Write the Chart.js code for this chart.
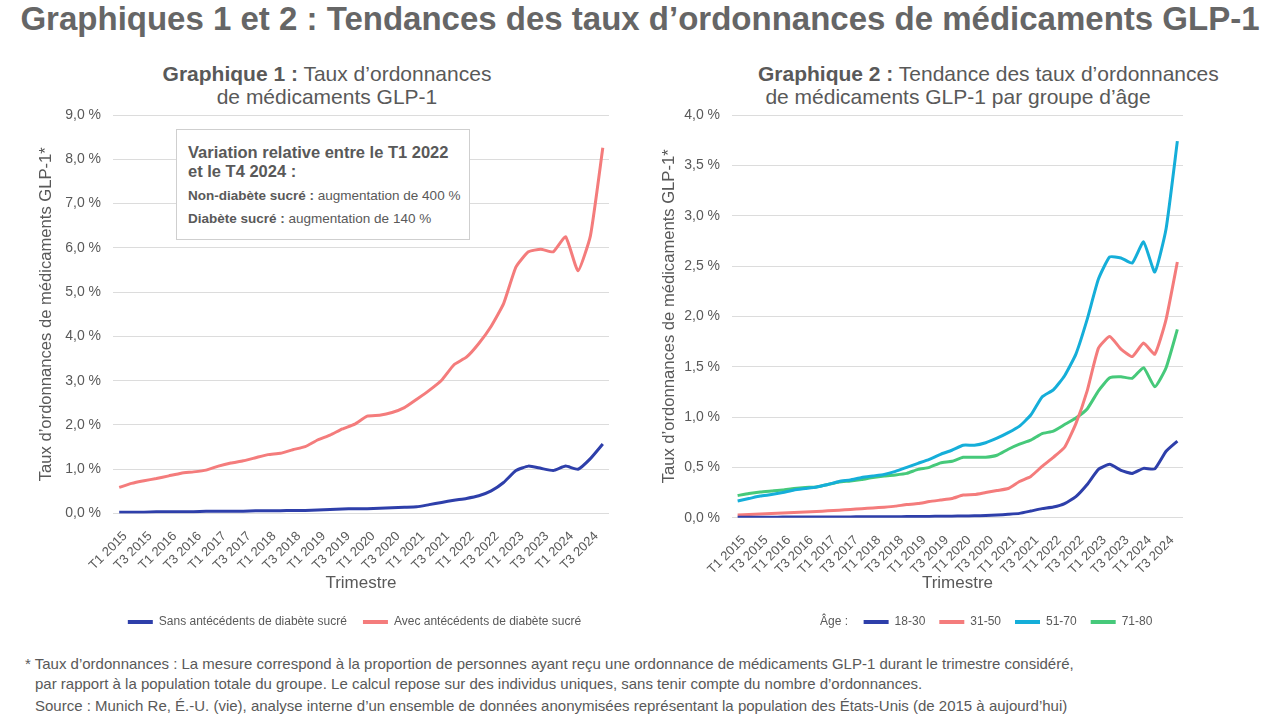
<!DOCTYPE html>
<html lang="fr">
<head>
<meta charset="utf-8">
<script src="https://cdn.jsdelivr.net/npm/chart.js@4.4.1/dist/chart.umd.min.js"></script>
<style>
  html, body { margin: 0; padding: 0; background: #fff; }
  body { width: 1280px; height: 720px; position: relative; overflow: hidden;
         font-family: "Liberation Sans", Arial, sans-serif; color: #595959; }
  .abs { position: absolute; }
  #mainTitle { left: 0; width: 1280px; top: 0px; text-align: center; font-size: 33px;
               font-weight: bold; color: #666; white-space: nowrap; }
  .ctitle { font-size: 21px; text-align: center; line-height: 23px; color: #595959; white-space: nowrap; }
  .ctitle b { font-weight: bold; }
  .chartBox { position: absolute; top: 105px; width: 640px; height: 535px; }
  #note { left: 176px; top: 129px; width: 294px; height: 111px; border: 1px solid #cfcfcf;
          background: #fff; box-sizing: border-box; padding: 13px 0 0 11px; }
  #note .h { font-weight: bold; font-size: 16.5px; line-height: 19px; color: #595959; }
  #note .l { font-size: 13.5px; margin-top: 7px; line-height: 16px; }
  #foot { left: 25px; top: 654px; font-size: 15px; line-height: 20px; white-space: nowrap; }
  #ageLbl { left: 820px; top: 614px; font-size: 12px; }
</style>
</head>
<body>
<div id="mainTitle" class="abs">Graphiques 1 et 2 : Tendances des taux d’ordonnances de médicaments GLP-1</div>
<div class="abs ctitle" style="left:127px;width:400px;top:62px;"><b>Graphique 1 :</b> Taux d’ordonnances<br>de médicaments GLP-1</div>
<div class="abs ctitle" style="left:758px;width:400px;top:62px;"><b>Graphique 2 :</b> Tendance des taux d’ordonnances<br>de médicaments GLP-1 par groupe d’âge</div>

<div class="chartBox" style="left:0;"><canvas id="chart1" width="640" height="535"></canvas></div>
<div class="chartBox" style="left:640px;"><canvas id="chart2" width="640" height="535"></canvas></div>

<div id="note" class="abs">
  <div class="h">Variation relative entre le T1 2022<br>et le T4 2024 :</div>
  <div class="l"><b>Non-diabète sucré :</b> augmentation de 400 %</div>
  <div class="l"><b>Diabète sucré :</b> augmentation de 140 %</div>
</div>
<div id="ageLbl" class="abs">Âge :</div>

<div id="foot" class="abs">
  <div>* Taux d’ordonnances : La mesure correspond à la proportion de personnes ayant reçu une ordonnance de médicaments GLP-1 durant le trimestre considéré,</div>
  <div style="padding-left:10px;">par rapport à la population totale du groupe. Le calcul repose sur des individus uniques, sans tenir compte du nombre d’ordonnances.</div>
  <div style="padding-left:10px;margin-top:2px;">Source : Munich Re, É.-U. (vie), analyse interne d’un ensemble de données anonymisées représentant la population des États-Unis (de 2015 à aujourd’hui)</div>
</div>

<script>
// trimestres T1 2015 .. T4 2024
const quarters = [
  'T1 2015','T2 2015','T3 2015','T4 2015','T1 2016','T2 2016','T3 2016','T4 2016',
  'T1 2017','T2 2017','T3 2017','T4 2017','T1 2018','T2 2018','T3 2018','T4 2018',
  'T1 2019','T2 2019','T3 2019','T4 2019','T1 2020','T2 2020','T3 2020','T4 2020',
  'T1 2021','T2 2021','T3 2021','T4 2021','T1 2022','T2 2022','T3 2022','T4 2022',
  'T1 2023','T2 2023','T3 2023','T4 2023','T1 2024','T2 2024','T3 2024','T4 2024'
];

// Graphique 1 (%)
const sansDiabete = [
  0.03,0.03,0.03,0.04,0.04,0.04,0.04,0.05,0.05,0.05,
  0.05,0.06,0.06,0.06,0.07,0.07,0.08,0.09,0.10,0.11,
  0.11,0.12,0.13,0.14,0.15,0.20,0.25,0.30,0.34,0.40,
  0.51,0.70,0.97,1.07,1.02,0.97,1.07,1.00,1.24,1.57
];
const avecDiabete = [
  0.59,0.68,0.74,0.79,0.85,0.91,0.94,0.98,1.07,1.14,
  1.19,1.26,1.33,1.36,1.44,1.51,1.66,1.77,1.91,2.02,
  2.20,2.22,2.28,2.39,2.58,2.78,3.01,3.36,3.53,3.84,
  4.23,4.74,5.57,5.91,5.97,5.91,6.25,5.48,6.27,8.26
];

// Graphique 2 (%)
const age18_30 = [
  0.005,0.005,0.005,0.005,0.006,0.006,0.006,0.007,0.007,0.008,
  0.008,0.009,0.009,0.010,0.010,0.011,0.012,0.013,0.014,0.015,
  0.017,0.019,0.022,0.027,0.034,0.043,0.066,0.090,0.106,0.14,
  0.21,0.33,0.48,0.53,0.47,0.44,0.49,0.485,0.66,0.76
];
const age31_50 = [
  0.027,0.032,0.037,0.042,0.047,0.052,0.057,0.062,0.068,0.075,
  0.082,0.090,0.097,0.105,0.115,0.13,0.14,0.16,0.175,0.19,
  0.225,0.23,0.25,0.27,0.29,0.36,0.41,0.51,0.60,0.70,
  0.935,1.26,1.685,1.80,1.675,1.60,1.735,1.625,1.97,2.54
];
const age51_70 = [
  0.166,0.19,0.215,0.23,0.25,0.275,0.29,0.305,0.33,0.36,
  0.375,0.40,0.415,0.43,0.46,0.50,0.54,0.58,0.63,0.67,
  0.72,0.72,0.745,0.79,0.845,0.91,1.02,1.20,1.27,1.41,
  1.625,1.97,2.37,2.59,2.58,2.53,2.74,2.44,2.87,3.74
];
const age71_80 = [
  0.22,0.24,0.255,0.265,0.275,0.29,0.30,0.305,0.33,0.355,
  0.365,0.38,0.40,0.415,0.425,0.44,0.48,0.50,0.545,0.56,
  0.60,0.60,0.60,0.62,0.68,0.73,0.77,0.835,0.86,0.925,
  0.99,1.08,1.26,1.39,1.40,1.385,1.49,1.30,1.49,1.87
];

const yTicks1 = [0,1,2,3,4,5,6,7,8,9];
const yTicks2 = [0,0.5,1,1.5,2,2.5,3,3.5,4];

const BLUE = '#2E3FAA', SALMON = '#F47C7C', TEAL = '#15AED9', GREEN = '#46C97A';
const FONT = '"Liberation Sans", Arial, sans-serif';
const GREY = '#595959';

function fmtPct(v) {
  return v.toFixed(1).replace('.', ',') + ' %';
}

function lineSet(label, data, color) {
  return {
    label, data,
    borderColor: color, backgroundColor: color,
    borderWidth: 3, pointRadius: 0, tension: 0.15, fill: false
  };
}

// décale la légende horizontalement (elle est centrée sur le canvas sinon)
const legendShift = {
  id: 'legendShift',
  afterLayout(chart, args, opts) {
    if (chart.legend) { chart.legend.left += opts.dx; chart.legend.right += opts.dx; }
  }
};

function makeOptions(cfg) {
  return {
    responsive: false,
    animation: false,
    layout: { padding: { left: cfg.padLeft, right: cfg.padRight, top: cfg.padTop, bottom: 2 } },
    plugins: {
      tooltip: { enabled: false },
      legendShift: { dx: cfg.legendDx },
      legend: {
        position: 'bottom',
        labels: {
          color: GREY, font: { family: FONT, size: 12 },
          boxWidth: 25, boxHeight: 4, padding: cfg.legendGap,
          generateLabels(chart) {
            return Chart.defaults.plugins.legend.labels.generateLabels(chart).map(it => {
              it.lineWidth = 0; it.fillStyle = it.strokeStyle; return it;
            });
          }
        }
      }
    },
    scales: {
      x: {
        offset: true,
        grid: { display: false },
        border: { display: false },
        ticks: {
          autoSkip: false, maxRotation: 45, minRotation: 45, padding: 7, labelOffset: 6,
          color: GREY, font: { family: FONT, size: 13 },
          callback(v, i) { return i % 2 === 0 ? quarters[i] : ''; }
        },
        title: { display: true, text: 'Trimestre', color: GREY, font: { family: FONT, size: 17 },
                 padding: { top: 0, bottom: cfg.xTitlePad } },
        afterFit(s) { s.height = cfg.xHeight; }
      },
      y: {
        min: 0, max: cfg.ticks[cfg.ticks.length - 1],
        afterBuildTicks(s) { s.ticks = cfg.ticks.map(v => ({ value: v })); },
        grid: { color: '#dcdcdc', lineWidth: 1, drawTicks: false },
        border: { display: false },
        ticks: { padding: 12, color: GREY, font: { family: FONT, size: 14 }, callback: v => fmtPct(v) },
        title: { display: true, text: 'Taux d’ordonnances de médicaments GLP-1*', color: GREY,
                 font: { family: FONT, size: 16.6 }, padding: { top: 0, bottom: 4 } },
        afterFit(s) { s.width = cfg.yWidth; s.paddingTop = 0; }
      }
    }
  };
}

new Chart(document.getElementById('chart1'), {
  type: 'line',
  data: {
    labels: quarters,
    datasets: [
      lineSet('Sans antécédents de diabète sucré', sansDiabete, BLUE),
      lineSet('Avec antécédents de diabète sucré', avecDiabete, SALMON)
    ]
  },
  options: makeOptions({ padLeft: 36, padRight: 31, padTop: 10, yWidth: 77, xHeight: 86.5,
                         xTitlePad: 6, legendGap: 16, legendDx: 32, ticks: yTicks1 }),
  plugins: [legendShift]
});

new Chart(document.getElementById('chart2'), {
  type: 'line',
  data: {
    labels: quarters,
    datasets: [
      lineSet('18-30', age18_30, BLUE),
      lineSet('31-50', age31_50, SALMON),
      lineSet('51-70', age51_70, TEAL),
      lineSet('71-80', age71_80, GREEN)
    ]
  },
  options: makeOptions({ padLeft: 19, padRight: 97, padTop: 10, yWidth: 73, xHeight: 84.3,
                         xTitlePad: 8, legendGap: 14, legendDx: 87, ticks: yTicks2 }),
  plugins: [legendShift]
});
</script>
</body>
</html>
